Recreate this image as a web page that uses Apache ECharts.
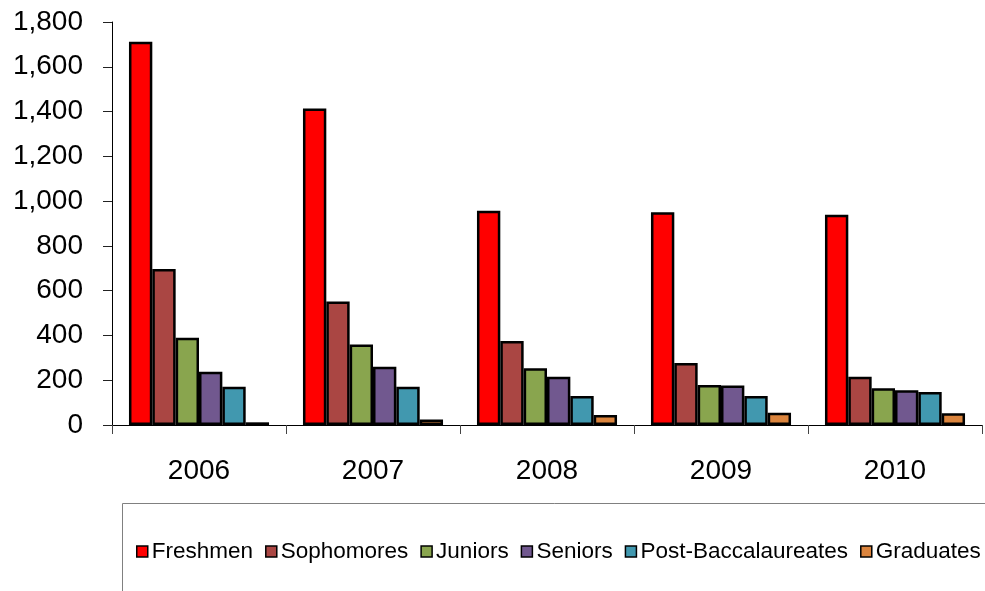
<!DOCTYPE html>
<html>
<head>
<meta charset="utf-8">
<script src="https://cdn.jsdelivr.net/npm/echarts@6/dist/echarts.min.js"></script>
<style>
html,body{margin:0;padding:0;background:#fff;}
#chart{width:985px;height:591px;}
</style>
</head>
<body>
<div id="chart"></div>
<script>
var categories = ['2006', '2007', '2008', '2009', '2010'];
var seriesNames = ['Freshmen', 'Sophomores', 'Juniors', 'Seniors', 'Post-Baccalaureates', 'Graduates'];
var freshmen = [1712, 1414, 957, 950, 939];
var sophomores = [697, 552, 375, 277, 216];
var juniors = [390, 359, 254, 179, 164];
var seniors = [238, 260, 216, 176, 155];
var postBacc = [171, 171, 129, 129, 147];
var graduates = [12, 25, 45, 55, 52];
var yTicks = { min: 0, max: 1800, interval: 200 };

var colors = ['#FF0000', '#AA4643', '#89A54E', '#71588F', '#4198AF', '#DB843D'];
var values = [freshmen, sophomores, juniors, seniors, postBacc, graduates];
var FONT = '"Liberation Sans", Arial, sans-serif';

var chart = echarts.init(document.getElementById('chart'), null, { renderer: 'canvas' });
var series = seriesNames.map(function (name, i) {
  return {
    name: name,
    type: 'bar',
    data: values[i],
    barGap: '0%',
    barCategoryGap: '19.5%',
    itemStyle: { color: colors[i], borderColor: '#000', borderWidth: 2.5 },
    emphasis: { disabled: true }
  };
});

chart.setOption({
  animation: false,
  backgroundColor: '#fff',
  grid: { left: 112, top: 22, right: 3, bottom: 166, containLabel: false },
  graphic: [{
    type: 'rect',
    shape: { x: 122.5, y: 503.5, width: 900, height: 200 },
    style: { fill: 'none', stroke: '#808080', lineWidth: 1 },
    z: 0
  }],
  legend: {
    data: seriesNames,
    left: 131,
    top: 535,
    width: 1200,
    orient: 'horizontal',
    padding: 5,
    itemWidth: 11,
    itemHeight: 11,
    itemGap: 12,
    icon: 'rect',
    itemStyle: { borderColor: '#000', borderWidth: 1.5 },
    textStyle: { fontFamily: FONT, fontSize: 22.5, color: '#000', padding: [0, 0, 0, -1] }
  },
  xAxis: {
    type: 'category',
    data: categories,
    axisLine: { lineStyle: { color: '#000', width: 1 } },
    axisTick: { show: true, length: 9, alignWithLabel: false, lineStyle: { color: '#444' } },
    axisLabel: { fontFamily: FONT, fontSize: 28, color: '#000', margin: 32 },
    splitLine: { show: false }
  },
  yAxis: {
    type: 'value',
    min: yTicks.min,
    max: yTicks.max,
    interval: yTicks.interval,
    axisLine: { show: true, lineStyle: { color: '#000', width: 1 } },
    axisTick: { show: true, length: 9, lineStyle: { color: '#222' } },
    axisLabel: {
      fontFamily: FONT, fontSize: 28, color: '#000', margin: 29,
      formatter: function (v) { return v.toLocaleString('en-US'); }
    },
    splitLine: { show: false }
  },
  series: series
});
</script>
</body>
</html>
